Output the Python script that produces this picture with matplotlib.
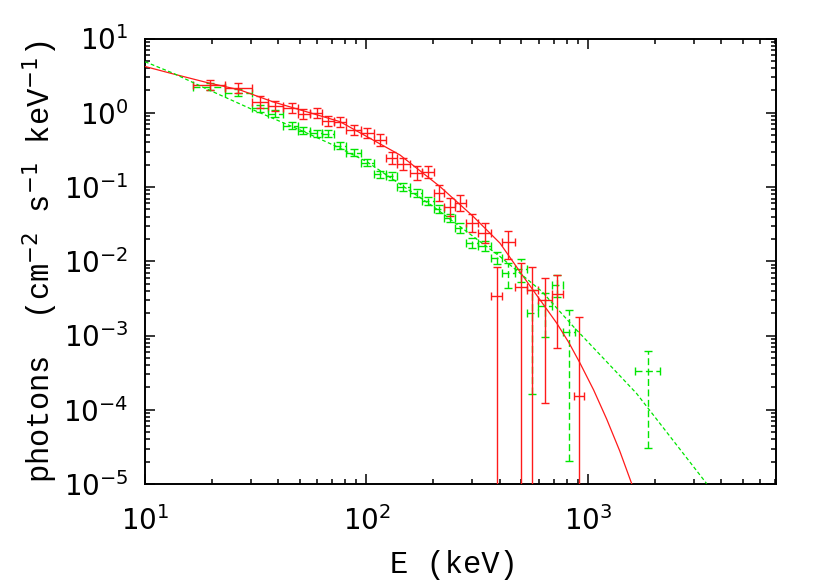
import numpy as np
import matplotlib
matplotlib.use("Agg")
import matplotlib.pyplot as plt
from matplotlib.ticker import LogLocator, LogFormatterMathtext, NullFormatter

plt.rcParams['mathtext.fontset'] = 'custom'
plt.rcParams['mathtext.rm'] = 'DejaVu Sans'
plt.rcParams['mathtext.it'] = 'DejaVu Sans'

# ---------------- data ----------------
# red data set
red_E = [19.66, 26.4, 33.2, 38.8, 45.9, 51.9, 59.6, 67.2, 75.9, 87.8, 101.0, 115.1,
         130.0, 146.6, 168.5, 190.1, 212.5, 238.2, 264.3, 299.5, 342.8, 387.0, 436.7,
         496.8, 556.9, 639.5, 726.6, 910.8]
red_Elo = [16.47, 22.97, 30.41, 35.92, 41.98, 49.06, 55.57, 62.97, 71.33, 80.82, 94.45,
           108.1, 122.5, 137.3, 157.2, 178.1, 201.7, 223.9, 250.9, 281.3, 318.7, 364.8,
           411.1, 468.1, 528.8, 596.5, 685.6, 867.6]
red_Ehi = [22.97, 30.41, 35.92, 41.98, 49.06, 55.57, 62.97, 71.33, 80.82, 94.45, 108.1,
           122.5, 137.3, 157.2, 178.1, 201.7, 223.9, 250.9, 281.3, 318.7, 364.8, 411.1,
           468.1, 528.8, 596.5, 685.6, 773.6, 962.3]
red_F = [2.37, 2.14, 1.41, 1.25, 1.15, 0.963, 0.994, 0.776, 0.740, 0.587, 0.530, 0.430,
         0.248, 0.2065, 0.1534, 0.1597, 0.0833, 0.0545, 0.0611, 0.0326, 0.0239, 0.00342,
         0.01796, 0.00448, 0.00412, 0.00300, 0.00358, 1.51e-4]
red_Fhi = [2.79, 2.50, 1.70, 1.46, 1.34, 1.125, 1.161, 0.906, 0.864, 0.686, 0.619, 0.518,
           0.299, 0.249, 0.1905, 0.192, 0.1067, 0.072, 0.0783, 0.0431, 0.0326, 0.0084,
           0.0253, 0.00943, 0.0084, 0.00593, 0.00655, 1.8e-3]
red_Flo = [2.01, 1.83, 1.17, 1.07, 0.985, 0.824, 0.851, 0.664, 0.634, 0.503, 0.454, 0.357,
           0.206, 0.1715, 0.1235, 0.1326, 0.065, 0.0412, 0.0477, 0.0247, 0.01753, 1e-7,
           0.0106, 1e-7, 1e-7, 1.23e-4, 6.7e-4, 1e-7]

# green data set
grn_E = [19.66, 26.4, 33.2, 38.8, 45.9, 51.9, 59.6, 67.2, 75.9, 87.8, 101.0, 115.1,
         130.0, 146.6, 168.5, 190.1, 212.5, 238.2, 264.3, 299.5, 342.8, 387.0, 436.7,
         496.8, 556.9, 639.5, 726.6, 821.0, 1872.0]
grn_Elo = [16.47, 22.97, 30.41, 35.92, 41.98, 49.06, 55.57, 62.97, 71.33, 80.82, 94.45,
           108.1, 122.5, 137.3, 157.2, 178.1, 201.7, 223.9, 250.9, 281.3, 318.7, 364.8,
           411.1, 468.1, 528.8, 596.5, 685.6, 773.6, 1630.0]
grn_Ehi = [22.97, 30.41, 35.92, 41.98, 49.06, 55.57, 62.97, 71.33, 80.82, 94.45, 108.1,
           122.5, 137.3, 157.2, 178.1, 201.7, 223.9, 250.9, 281.3, 318.7, 364.8, 411.1,
           468.1, 528.8, 596.5, 685.6, 773.6, 873.6, 2115.0]
grn_F = [2.245, 1.864, 1.150, 0.972, 0.668, 0.569, 0.526, 0.518, 0.3574, 0.2877, 0.2130,
         0.1487, 0.1389, 0.0988, 0.0833, 0.0650, 0.0512, 0.0388, 0.0282, 0.0174, 0.0160,
         0.0110, 0.00692, 0.00783, 0.00200, 0.00246, 0.00481, 0.00113, 3.28e-4]
grn_Fhi = [2.50, 2.08, 1.28, 1.084, 0.745, 0.634, 0.586, 0.578, 0.398, 0.321, 0.2375,
           0.166, 0.157, 0.1118, 0.0943, 0.0736, 0.058, 0.0439, 0.0329, 0.0203, 0.0187,
           0.01325, 9.43e-3, 0.01067, 4.12e-3, 3.72e-3, 6.56e-3, 2.22e-3, 6.28e-4]
grn_Flo = [2.01, 1.67, 1.03, 0.872, 0.599, 0.510, 0.472, 0.465, 0.3205, 0.258, 0.191,
           0.1334, 0.1227, 0.0873, 0.0736, 0.0574, 0.0452, 0.0343, 0.0241, 0.0149, 0.0137,
           0.00914, 4.35e-3, 5.33e-3, 1.63e-4, 9.69e-4, 3.35e-3, 2.01e-5, 3.05e-5]

# model curves
red_mod_E = [10.0, 13.42, 19.0, 26.85, 37.95, 75.9, 141.6, 214.7, 303.5, 400.6, 510.6,
             722.4, 820.0, 920.2, 1060.0, 1214.0, 1390.0, 1575.0]
red_mod_F = [4.20, 3.33, 2.557, 2.027, 1.398, 0.759, 0.27, 0.1013, 0.0400, 0.01752,
             6.22e-3, 1.468e-3, 8.0e-4, 4.25e-4, 1.85e-4, 7.5e-5, 2.8e-5, 1.01e-5]
grn_mod_E = [10.0, 13.42, 19.0, 30.83, 50.1, 73.4, 100.2, 200.3, 400.6, 620.0, 858.2,
             1200.0, 1659.0, 2346.0, 3435.0]
grn_mod_F = [4.87, 3.40, 2.091, 1.091, 0.587, 0.3497, 0.2197, 0.0545, 0.01157, 3.9e-3,
             1.322e-3, 4.6e-4, 1.65e-4, 4.37e-5, 1.01e-5]

x_range = [10, 7060]
y_range = [1e-5, 10]
x_label = "E (keV)"
y_label = "photons  (cm$^{-2}$ s$^{-1}$ keV$^{-1}$)"

RED = '#ff1a1a'
GREEN = '#00e600'

# ---------------- figure ----------------
fig = plt.figure(figsize=(8.30, 5.81), dpi=100)
ax = fig.add_axes([145/830, 1 - 484/581, 631/830, 445.5/581])
ax.set_xscale('log')
ax.set_yscale('log')
ax.set_xlim(*x_range)
ax.set_ylim(*y_range)


def draw_set(E, Elo, Ehi, F, Flo, Fhi, color, dashed):
    E = np.asarray(E); F = np.asarray(F)
    xerr = [E - np.asarray(Elo), np.asarray(Ehi) - E]
    yerr = [F - np.asarray(Flo), np.asarray(Fhi) - F]
    cont = ax.errorbar(E, F, xerr=xerr, yerr=yerr, fmt='none', ecolor=color,
                       elinewidth=1.0, capsize=3.0, capthick=1.0, zorder=3)
    if dashed:
        for lc in cont[2]:
            lc.set_linestyle((0, (5, 2.5)))
    return cont


draw_set(grn_E, grn_Elo, grn_Ehi, grn_F, grn_Flo, grn_Fhi, GREEN, True)
draw_set(red_E, red_Elo, red_Ehi, red_F, red_Flo, red_Fhi, RED, False)

ax.plot(red_mod_E, red_mod_F, color=RED, lw=0.9, zorder=4)
ax.plot(grn_mod_E, grn_mod_F, color=GREEN, lw=0.9, ls=(0, (3, 2)), zorder=4)

# ---------------- axes styling ----------------
for sp in ax.spines.values():
    sp.set_linewidth(1.4)

ax.xaxis.set_major_locator(LogLocator(base=10, numticks=20))
ax.xaxis.set_minor_locator(LogLocator(base=10, subs=np.arange(2, 10), numticks=20))
ax.yaxis.set_major_locator(LogLocator(base=10, numticks=20))
ax.yaxis.set_minor_locator(LogLocator(base=10, subs=np.arange(2, 10), numticks=20))
ax.xaxis.set_major_formatter(LogFormatterMathtext())
ax.yaxis.set_major_formatter(LogFormatterMathtext())
ax.xaxis.set_minor_formatter(NullFormatter())
ax.yaxis.set_minor_formatter(NullFormatter())

ax.tick_params(which='both', direction='in', top=True, right=True, width=1.1)
ax.tick_params(which='major', length=7)
ax.tick_params(which='minor', length=3.5)
ax.tick_params(axis='y', which='major', pad=12)
ax.tick_params(axis='x', which='major', pad=16)
for lab in ax.get_xticklabels() + ax.get_yticklabels():
    lab.set_fontfamily('DejaVu Sans')
    lab.set_fontsize(20)

ax.set_xlabel(x_label, fontfamily='Liberation Mono', fontsize=22)
ax.set_ylabel(y_label, fontfamily='Liberation Mono', fontsize=22)
ax.xaxis.set_label_coords(0.49, -0.148)
ax.yaxis.set_label_coords(-0.135, 0.5)

fig.savefig('out.png', dpi=100)
